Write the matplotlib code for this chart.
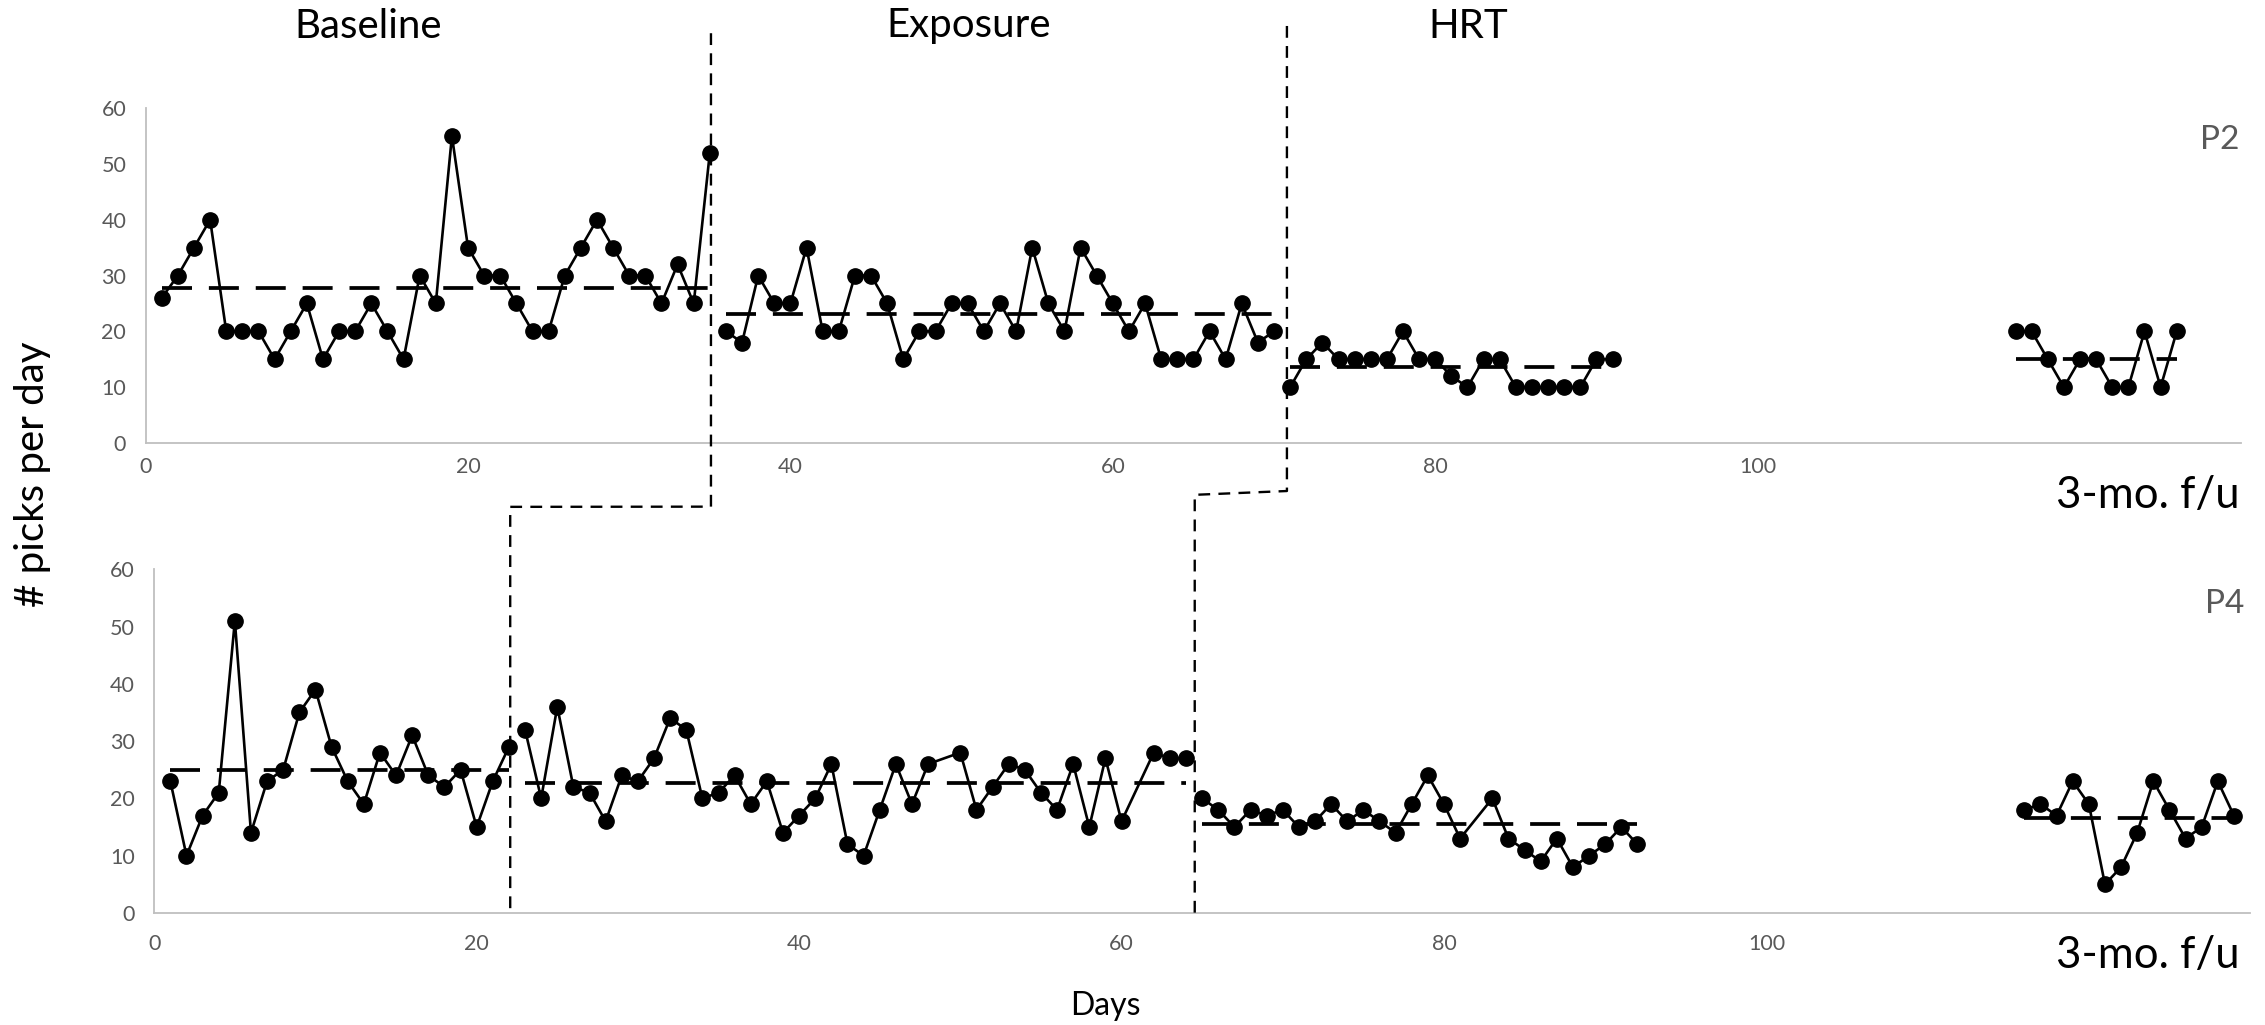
import numpy as np
import matplotlib.pyplot as plt
from matplotlib.lines import Line2D

plt.rcParams['font.family'] = ['Lato', 'DejaVu Sans']

# ---- P2 (top panel) ----
p2_base_days = list(range(1, 36))
p2_base = [26, 30, 35, 40, 20, 20, 20, 15, 20, 25, 15, 20, 20, 25, 20, 15, 30, 25,
           55, 35, 30, 30, 25, 20, 20, 30, 35, 40, 35, 30, 30, 25, 32, 25, 52]
p2_expo_days = list(range(36, 71))
p2_expo = [20, 18, 30, 25, 25, 35, 20, 20, 30, 30, 25, 15, 20, 20, 25, 25, 20, 25,
           20, 35, 25, 20, 35, 30, 25, 20, 25, 15, 15, 15, 20, 15, 25, 18, 20]
p2_hrt_days = list(range(71, 92))
p2_hrt = [10, 15, 18, 15, 15, 15, 15, 20, 15, 15, 12, 10, 15, 15, 10, 10, 10, 10,
          10, 15, 15]
p2_fu_days = list(range(116, 127))
p2_fu = [20, 20, 15, 10, 15, 15, 10, 10, 20, 10, 20]

# ---- P4 (bottom panel) ----
p4_base_days = list(range(1, 23))
p4_base = [23, 10, 17, 21, 51, 14, 23, 25, 35, 39, 29, 23, 19, 28, 24, 31, 24, 22,
           25, 15, 23, 29]
p4_expo_days = [23, 24, 25, 26, 27, 28, 29, 30, 31, 32, 33, 34, 35, 36, 37, 38, 39,
                40, 41, 42, 43, 44, 45, 46, 47, 48, 50, 51, 52, 53, 54, 55, 56, 57,
                58, 59, 60, 62, 63, 64]
p4_expo = [32, 20, 36, 22, 21, 16, 24, 23, 27, 34, 32, 20, 21, 24, 19, 23, 14, 17,
           20, 26, 12, 10, 18, 26, 19, 26, 28, 18, 22, 26, 25, 21, 18, 26, 15, 27,
           16, 28, 27, 27]
p4_hrt_days = [65, 66, 67, 68, 69, 70, 71, 72, 73, 74, 75, 76, 77, 78, 79, 80, 81,
               83, 84, 85, 86, 87, 88, 89, 90, 91, 92]
p4_hrt = [20, 18, 15, 18, 17, 18, 15, 16, 19, 16, 18, 16, 14, 19, 24, 19, 13, 20,
          13, 11, 9, 13, 8, 10, 12, 15, 12]
p4_fu_days = list(range(116, 130))
p4_fu = [18, 19, 17, 23, 19, 5, 8, 14, 23, 18, 13, 15, 23, 17]

phases = ["Baseline", "Exposure", "HRT"]
x_ticks = [0, 20, 40, 60, 80, 100]
y_ticks = [0, 10, 20, 30, 40, 50, 60]

# phase change days (top panel / bottom panel)
p2_changes = [35.07, 70.8]
p4_changes = [22.08, 64.54]

grey_axis = '#bfbfbf'
grey_text = '#595959'


def plot_phase(ax, days, vals):
    ax.plot(days, vals, color='black', lw=1.9, marker='o', ms=11, zorder=3)
    m = np.mean(vals)
    ax.plot([days[0], days[-1]], [m, m], color='black', lw=2.7,
            ls=(0, (8, 4.5)), zorder=4)


fig = plt.figure(figsize=(22.65, 10.25), dpi=100)
ax1 = fig.add_axes([0.0643, 0.5678, 0.9252, 0.3268])
ax2 = fig.add_axes([0.0681, 0.1093, 0.9253, 0.3353])

for ax, pad in ((ax1, 10), (ax2, 15)):
    ax.set_xlim(0, 130)
    ax.set_ylim(0, 60)
    ax.set_xticks(x_ticks)
    ax.set_yticks(y_ticks)
    for s in ('top', 'right'):
        ax.spines[s].set_visible(False)
    for s in ('left', 'bottom'):
        ax.spines[s].set_color(grey_axis)
        ax.spines[s].set_linewidth(1.3)
    ax.tick_params(length=0, labelsize=15.5, labelcolor=grey_text)
    ax.tick_params(axis='y', pad=14)
    ax.tick_params(axis='x', pad=pad)
    ax.patch.set_alpha(0)

for d, v in ((p2_base_days, p2_base), (p2_expo_days, p2_expo),
             (p2_hrt_days, p2_hrt), (p2_fu_days, p2_fu)):
    plot_phase(ax1, d, v)
for d, v in ((p4_base_days, p4_base), (p4_expo_days, p4_expo),
             (p4_hrt_days, p4_hrt), (p4_fu_days, p4_fu)):
    plot_phase(ax2, d, v)

# phase change lines running across both panels
inv = fig.transFigure.inverted()
paths = [
    [(ax1, p2_changes[0], 73.4), (ax1, p2_changes[0], -11.4),
     (ax2, p4_changes[0], 70.9), (ax2, p4_changes[0], 0)],
    [(ax1, p2_changes[1], 74.7), (ax1, p2_changes[1], -8.6),
     (ax2, p4_changes[1], 73.0), (ax2, p4_changes[1], 0)],
]
for path in paths:
    pts = [inv.transform(a.transData.transform((x, y))) for a, x, y in path]
    xs = [p[0] for p in pts]
    ys = [p[1] for p in pts]
    fig.add_artist(Line2D(xs, ys, color='black', lw=1.7, ls=(0, (5, 3.5)),
                          transform=fig.transFigure))

# phase titles
title_x = [368, 969, 1468]
for name, x in zip(phases, title_x):
    fig.text(x / 2265, 1 - 26 / 1025, name, ha='center', va='center',
             fontsize=29)

ax1.text(0.9896, 0.906, "P2", transform=ax1.transAxes, ha='center', va='center',
         fontsize=24, color=grey_text)
ax2.text(0.9881, 0.900, "P4", transform=ax2.transAxes, ha='center', va='center',
         fontsize=24, color=grey_text)

fig.text(2148 / 2265, 1 - 496 / 1025, "3-mo. f/u", ha='center', va='center',
         fontsize=31.5)
fig.text(2148 / 2265, 1 - 955 / 1025, "3-mo. f/u", ha='center', va='center',
         fontsize=31.5)

fig.text(33 / 2265, 1 - 474 / 1025, "# picks per day", rotation=90,
         ha='center', va='center', fontsize=29)
fig.text(1105 / 2265, 1 - 1006 / 1025, "Days", ha='center', va='center',
         fontsize=23)

fig.savefig("out.png", dpi=100)
